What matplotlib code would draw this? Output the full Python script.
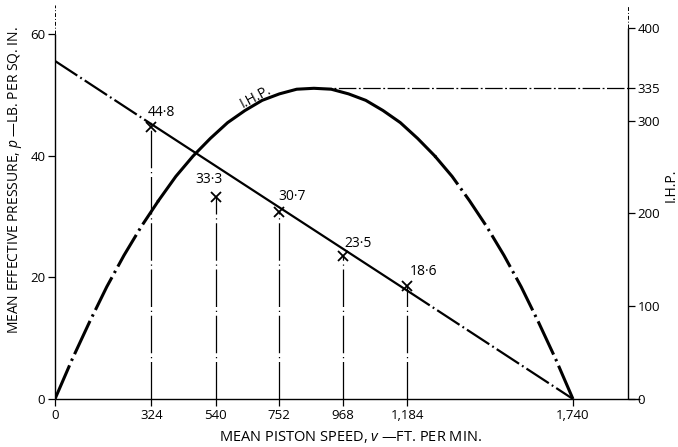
import matplotlib.pyplot as plt

plt.rcParams['font.family'] = ['Open Sans', 'DejaVu Sans']
plt.rcParams['mathtext.fontset'] = 'custom'
plt.rcParams['mathtext.it'] = 'Open Sans:italic'
plt.rcParams['mathtext.rm'] = 'Open Sans'

# test points: piston speed (ft/min) and mean effective pressure (lb/sq in)
speeds = [324, 540, 752, 968, 1184]
pressures = [44.8, 33.3, 30.7, 23.5, 18.6]
point_labels = ['44·8', '33·3', '30·7', '23·5', '18·6']

# straight line through the points, extended to both axes
fit_speed = [0, 324, 1184, 1740]
fit_pressure = [55.6, 45.2, 17.8, 0]

# indicated horse-power curve
ihp_speed = [0, 58, 116, 174, 232, 290, 348, 406, 464, 522, 580,
             638, 696, 754, 812, 870, 928, 986, 1044, 1102, 1160,
             1218, 1276, 1334, 1392, 1450, 1508, 1566, 1624, 1682, 1740]
ihp_values = [0, 43, 83, 121, 155, 186, 214, 240, 262, 281, 298,
              311, 322, 329, 334, 335, 334, 329, 322, 311, 298,
              281, 262, 240, 214, 186, 155, 121, 83, 43, 0]
ihp_peak_speed = 870
ihp_peak = 335

speed_ticks = [0, 324, 540, 752, 968, 1184, 1740]
speed_ticklabels = ['0', '324', '540', '752', '968', '1,184', '1,740']
pressure_ticks = [0, 20, 40, 60]
ihp_ticks = [0, 100, 200, 300, 335, 400]

FS = 9.5
DASHDOT = (0, (12, 1.6, 0.8, 1.6))
THIN_DASHDOT = (0, (30, 3, 1, 3))

fig = plt.figure(figsize=(6.78, 4.47), dpi=100)
ax = fig.add_axes([0.0811, 0.1074, 0.8452, 0.8814])
ax2 = ax.twinx()

XMAX = 1925
ax.set_xlim(0, XMAX)
ax.set_ylim(0, 64.8)
ax2.set_ylim(0, 424.8)

for a in (ax, ax2):
    for s in a.spines.values():
        s.set_visible(False)

# axis lines drawn by hand so they can run past the last tick
k = dict(color='black', lw=1.0, clip_on=False, solid_capstyle='butt')
ax.plot([0, 0], [0, 60], **k)
ax.plot([0, 0], [60, 64.8], color='black', lw=0.7, ls=(0, (4, 2, 1, 2)), clip_on=False)
ax.plot([0, XMAX + 40], [0, 0], **k)
ax2.plot([XMAX, XMAX], [0, 400], **k)
ax2.plot([XMAX, XMAX], [400, 424.8], color='black', lw=0.7, ls=(0, (4, 2, 1, 2)), clip_on=False)

# pressure line: solid over the tested range, dash-dot where extended
ax.plot(fit_speed[:2], fit_pressure[:2], color='black', lw=1.6, ls=DASHDOT)
ax.plot(fit_speed[1:3], fit_pressure[1:3], color='black', lw=1.6)
ax.plot(fit_speed[2:], fit_pressure[2:], color='black', lw=1.6, ls=DASHDOT)

# test points with drop lines to the speed axis
for v, p in zip(speeds, pressures):
    ax.plot([v, v], [0, p], color='black', lw=0.9, ls=THIN_DASHDOT)
ax.plot(speeds, pressures, ls='none', marker='x', ms=7, mew=1.3, color='black')

offsets = [(-3, 5), (-15, 7), (0, 6), (1, 4), (2, 5)]
for v, p, lab, off in zip(speeds, pressures, point_labels, offsets):
    ax.annotate(lab, (v, p), xytext=off, textcoords='offset points',
                ha='left', va='bottom', fontsize=10)

# I.H.P. curve
ax2.plot(ihp_speed[:7], ihp_values[:7], color='black', lw=2.2, ls=DASHDOT)
ax2.plot(ihp_speed[6:23], ihp_values[6:23], color='black', lw=2.2)
ax2.plot(ihp_speed[22:], ihp_values[22:], color='black', lw=2.2, ls=DASHDOT)
ax2.plot([ihp_peak_speed, XMAX], [ihp_peak, ihp_peak], color='black', lw=0.9,
         ls=(0, (14, 2, 1.5, 2)))
ax2.text(675, 326, 'I.H.P.', rotation=28, ha='center', va='center', fontsize=10)

# ticks
ax.set_xticks(speed_ticks)
ax.set_xticklabels(speed_ticklabels)
ax.set_yticks(pressure_ticks)
ax2.set_yticks(ihp_ticks)
ax.tick_params(axis='both', direction='out', length=5, width=0.9, labelsize=FS, pad=2)
ax2.tick_params(axis='y', direction='out', length=5, width=0.9, labelsize=FS, pad=2)
ax2.tick_params(axis='x', bottom=False, top=False, labelbottom=False)

ax.set_xlabel(r'MEAN PISTON SPEED, $v$ —FT. PER MIN.', fontsize=10.5, va='center')
ax.xaxis.set_label_coords(0.515, -0.0965)
ax.set_ylabel(r'MEAN EFFECTIVE PRESSURE, $p$ —LB. PER SQ. IN.', fontsize=10, va='center')
ax.yaxis.set_label_coords(-0.07, 0.556)
fig.text(0.99, 1 - 185 / 447, 'I.H.P.', rotation=90, ha='center', va='center', fontsize=10)

fig.savefig('out.png', dpi=100)
